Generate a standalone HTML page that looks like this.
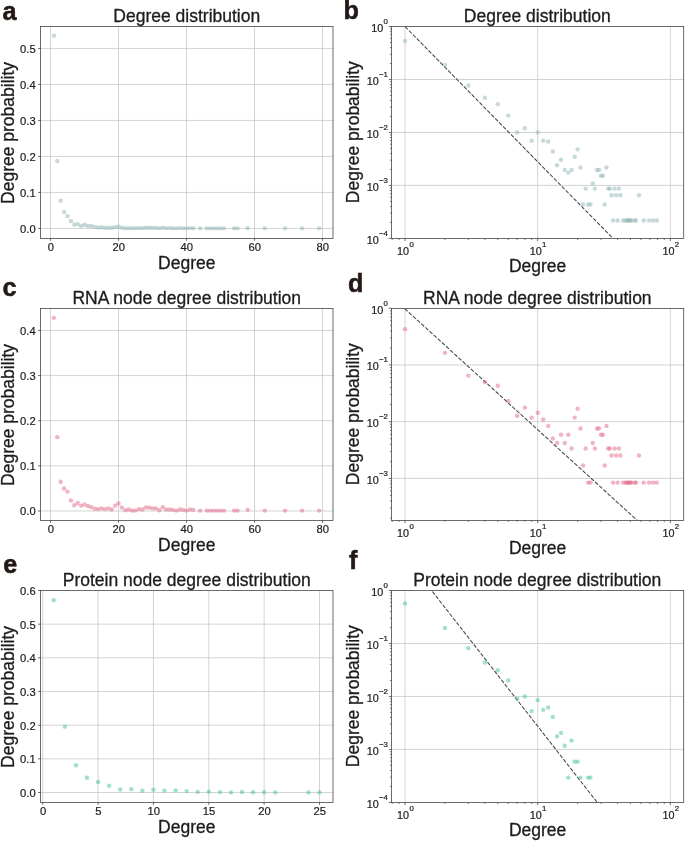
<!DOCTYPE html>
<html><head><meta charset="utf-8"><title>Degree distributions</title>
<style>html,body{margin:0;padding:0;background:#fff;}svg{display:block;will-change:transform;}svg text{font-family:"Liberation Sans",sans-serif;}</style>
</head><body>
<svg width="685" height="841" viewBox="0 0 685 841">
<line x1="50.5" y1="26.5" x2="50.5" y2="238.4" stroke="#c2c2c2" stroke-width="0.7"/>
<line x1="118.5" y1="26.5" x2="118.5" y2="238.4" stroke="#c2c2c2" stroke-width="0.7"/>
<line x1="186.5" y1="26.5" x2="186.5" y2="238.4" stroke="#c2c2c2" stroke-width="0.7"/>
<line x1="254.5" y1="26.5" x2="254.5" y2="238.4" stroke="#c2c2c2" stroke-width="0.7"/>
<line x1="322.5" y1="26.5" x2="322.5" y2="238.4" stroke="#c2c2c2" stroke-width="0.7"/>
<line x1="40.5" y1="228.42" x2="333" y2="228.42" stroke="#c2c2c2" stroke-width="0.7"/>
<line x1="40.5" y1="192.43" x2="333" y2="192.43" stroke="#c2c2c2" stroke-width="0.7"/>
<line x1="40.5" y1="156.44" x2="333" y2="156.44" stroke="#c2c2c2" stroke-width="0.7"/>
<line x1="40.5" y1="120.44" x2="333" y2="120.44" stroke="#c2c2c2" stroke-width="0.7"/>
<line x1="40.5" y1="84.45" x2="333" y2="84.45" stroke="#c2c2c2" stroke-width="0.7"/>
<line x1="40.5" y1="48.46" x2="333" y2="48.46" stroke="#c2c2c2" stroke-width="0.7"/>
<g fill="#8fb3b3" fill-opacity="0.5">
<circle cx="53.9" cy="35.79" r="2.2"/>
<circle cx="57.3" cy="161.01" r="2.2"/>
<circle cx="60.7" cy="200.75" r="2.2"/>
<circle cx="64.1" cy="212.12" r="2.2"/>
<circle cx="67.5" cy="216.11" r="2.2"/>
<circle cx="70.9" cy="220.93" r="2.2"/>
<circle cx="74.3" cy="224.81" r="2.2"/>
<circle cx="77.7" cy="224.11" r="2.2"/>
<circle cx="81.1" cy="225.91" r="2.2"/>
<circle cx="84.5" cy="224.81" r="2.2"/>
<circle cx="87.9" cy="225.91" r="2.2"/>
<circle cx="91.3" cy="225.99" r="2.2"/>
<circle cx="94.7" cy="226.85" r="2.2"/>
<circle cx="98.1" cy="227.56" r="2.2"/>
<circle cx="101.5" cy="227.32" r="2.2"/>
<circle cx="104.9" cy="227.71" r="2.2"/>
<circle cx="108.3" cy="227.79" r="2.2"/>
<circle cx="111.7" cy="227.71" r="2.2"/>
<circle cx="115.1" cy="227.17" r="2.2"/>
<circle cx="118.5" cy="226.7" r="2.2"/>
<circle cx="121.9" cy="227.64" r="2.2"/>
<circle cx="125.3" cy="228.26" r="2.2"/>
<circle cx="128.7" cy="228.11" r="2.2"/>
<circle cx="132.1" cy="228.26" r="2.2"/>
<circle cx="135.5" cy="228.26" r="2.2"/>
<circle cx="138.9" cy="228.03" r="2.2"/>
<circle cx="142.3" cy="228.11" r="2.2"/>
<circle cx="145.7" cy="227.71" r="2.2"/>
<circle cx="149.1" cy="227.71" r="2.2"/>
<circle cx="152.5" cy="227.87" r="2.2"/>
<circle cx="155.9" cy="227.87" r="2.2"/>
<circle cx="159.3" cy="228.26" r="2.2"/>
<circle cx="162.7" cy="227.64" r="2.2"/>
<circle cx="166.1" cy="228.11" r="2.2"/>
<circle cx="169.5" cy="228.11" r="2.2"/>
<circle cx="172.9" cy="228.18" r="2.2"/>
<circle cx="176.3" cy="228.34" r="2.2"/>
<circle cx="179.7" cy="228.11" r="2.2"/>
<circle cx="183.1" cy="228.18" r="2.2"/>
<circle cx="186.5" cy="228.34" r="2.2"/>
<circle cx="189.9" cy="228.11" r="2.2"/>
<circle cx="193.3" cy="228.18" r="2.2"/>
<circle cx="200.1" cy="228.34" r="2.2"/>
<circle cx="206.9" cy="228.34" r="2.2"/>
<circle cx="210.3" cy="228.34" r="2.2"/>
<circle cx="213.7" cy="228.34" r="2.2"/>
<circle cx="217.1" cy="228.34" r="2.2"/>
<circle cx="220.5" cy="228.34" r="2.2"/>
<circle cx="223.9" cy="228.34" r="2.2"/>
<circle cx="234.1" cy="228.34" r="2.2"/>
<circle cx="237.5" cy="228.34" r="2.2"/>
<circle cx="247.7" cy="228.18" r="2.2"/>
<circle cx="264.7" cy="228.34" r="2.2"/>
<circle cx="285.1" cy="228.34" r="2.2"/>
<circle cx="302.1" cy="228.34" r="2.2"/>
<circle cx="319.1" cy="228.34" r="2.2"/>
</g>
<rect x="40.5" y="26.5" width="292.5" height="211.9" fill="none" stroke="#464646" stroke-width="0.8"/>
<line x1="50.5" y1="238.4" x2="50.5" y2="240.8" stroke="#464646" stroke-width="0.8"/>
<text transform="translate(50.8,251.3) scale(1.02,1)" font-size="11.0" text-anchor="middle" font-weight="normal" fill="#1c1c1c" stroke="#1c1c1c" stroke-width="0.2">0</text>
<line x1="118.5" y1="238.4" x2="118.5" y2="240.8" stroke="#464646" stroke-width="0.8"/>
<text transform="translate(118.8,251.3) scale(1.02,1)" font-size="11.0" text-anchor="middle" font-weight="normal" fill="#1c1c1c" stroke="#1c1c1c" stroke-width="0.2">20</text>
<line x1="186.5" y1="238.4" x2="186.5" y2="240.8" stroke="#464646" stroke-width="0.8"/>
<text transform="translate(186.8,251.3) scale(1.02,1)" font-size="11.0" text-anchor="middle" font-weight="normal" fill="#1c1c1c" stroke="#1c1c1c" stroke-width="0.2">40</text>
<line x1="254.5" y1="238.4" x2="254.5" y2="240.8" stroke="#464646" stroke-width="0.8"/>
<text transform="translate(254.8,251.3) scale(1.02,1)" font-size="11.0" text-anchor="middle" font-weight="normal" fill="#1c1c1c" stroke="#1c1c1c" stroke-width="0.2">60</text>
<line x1="322.5" y1="238.4" x2="322.5" y2="240.8" stroke="#464646" stroke-width="0.8"/>
<text transform="translate(322.8,251.3) scale(1.02,1)" font-size="11.0" text-anchor="middle" font-weight="normal" fill="#1c1c1c" stroke="#1c1c1c" stroke-width="0.2">80</text>
<line x1="38.1" y1="228.42" x2="40.5" y2="228.42" stroke="#464646" stroke-width="0.8"/>
<text transform="translate(35.7,232.87) scale(1.02,1)" font-size="11.0" text-anchor="end" font-weight="normal" fill="#1c1c1c" stroke="#1c1c1c" stroke-width="0.2">0.0</text>
<line x1="38.1" y1="192.43" x2="40.5" y2="192.43" stroke="#464646" stroke-width="0.8"/>
<text transform="translate(35.7,196.88) scale(1.02,1)" font-size="11.0" text-anchor="end" font-weight="normal" fill="#1c1c1c" stroke="#1c1c1c" stroke-width="0.2">0.1</text>
<line x1="38.1" y1="156.44" x2="40.5" y2="156.44" stroke="#464646" stroke-width="0.8"/>
<text transform="translate(35.7,160.89) scale(1.02,1)" font-size="11.0" text-anchor="end" font-weight="normal" fill="#1c1c1c" stroke="#1c1c1c" stroke-width="0.2">0.2</text>
<line x1="38.1" y1="120.44" x2="40.5" y2="120.44" stroke="#464646" stroke-width="0.8"/>
<text transform="translate(35.7,124.89) scale(1.02,1)" font-size="11.0" text-anchor="end" font-weight="normal" fill="#1c1c1c" stroke="#1c1c1c" stroke-width="0.2">0.3</text>
<line x1="38.1" y1="84.45" x2="40.5" y2="84.45" stroke="#464646" stroke-width="0.8"/>
<text transform="translate(35.7,88.9) scale(1.02,1)" font-size="11.0" text-anchor="end" font-weight="normal" fill="#1c1c1c" stroke="#1c1c1c" stroke-width="0.2">0.4</text>
<line x1="38.1" y1="48.46" x2="40.5" y2="48.46" stroke="#464646" stroke-width="0.8"/>
<text transform="translate(35.7,52.91) scale(1.02,1)" font-size="11.0" text-anchor="end" font-weight="normal" fill="#1c1c1c" stroke="#1c1c1c" stroke-width="0.2">0.5</text>
<text transform="translate(186.75,21.9) scale(1.0,1)" font-size="17.5" text-anchor="middle" font-weight="normal" fill="#1c1c1c" stroke="#1c1c1c" stroke-width="0.3">Degree distribution</text>
<text transform="translate(186.75,268.9) scale(1.0,1)" font-size="17.5" text-anchor="middle" font-weight="normal" fill="#1c1c1c" stroke="#1c1c1c" stroke-width="0.3">Degree</text>
<text transform="translate(14.3,132.95) rotate(-90) scale(1.0,1)" font-size="17.5" text-anchor="middle" fill="#1c1c1c" stroke="#1c1c1c" stroke-width="0.3">Degree probability</text>
<line x1="50.5" y1="308.5" x2="50.5" y2="520.4" stroke="#c2c2c2" stroke-width="0.7"/>
<line x1="118.5" y1="308.5" x2="118.5" y2="520.4" stroke="#c2c2c2" stroke-width="0.7"/>
<line x1="186.5" y1="308.5" x2="186.5" y2="520.4" stroke="#c2c2c2" stroke-width="0.7"/>
<line x1="254.5" y1="308.5" x2="254.5" y2="520.4" stroke="#c2c2c2" stroke-width="0.7"/>
<line x1="322.5" y1="308.5" x2="322.5" y2="520.4" stroke="#c2c2c2" stroke-width="0.7"/>
<line x1="40.5" y1="511" x2="333" y2="511" stroke="#c2c2c2" stroke-width="0.7"/>
<line x1="40.5" y1="465.86" x2="333" y2="465.86" stroke="#c2c2c2" stroke-width="0.7"/>
<line x1="40.5" y1="420.72" x2="333" y2="420.72" stroke="#c2c2c2" stroke-width="0.7"/>
<line x1="40.5" y1="375.58" x2="333" y2="375.58" stroke="#c2c2c2" stroke-width="0.7"/>
<line x1="40.5" y1="330.44" x2="333" y2="330.44" stroke="#c2c2c2" stroke-width="0.7"/>
<g fill="#e16989" fill-opacity="0.5">
<circle cx="53.9" cy="317.84" r="2.2"/>
<circle cx="57.3" cy="437.16" r="2.2"/>
<circle cx="60.7" cy="481.69" r="2.2"/>
<circle cx="64.1" cy="488.54" r="2.2"/>
<circle cx="67.5" cy="491.59" r="2.2"/>
<circle cx="70.9" cy="500.53" r="2.2"/>
<circle cx="74.3" cy="505.29" r="2.2"/>
<circle cx="77.7" cy="503.01" r="2.2"/>
<circle cx="81.1" cy="505.67" r="2.2"/>
<circle cx="84.5" cy="504.53" r="2.2"/>
<circle cx="87.9" cy="506.05" r="2.2"/>
<circle cx="91.3" cy="507.19" r="2.2"/>
<circle cx="94.7" cy="508.72" r="2.2"/>
<circle cx="98.1" cy="509.1" r="2.2"/>
<circle cx="101.5" cy="508.34" r="2.2"/>
<circle cx="104.9" cy="509.1" r="2.2"/>
<circle cx="108.3" cy="508.34" r="2.2"/>
<circle cx="111.7" cy="509.48" r="2.2"/>
<circle cx="115.1" cy="505.67" r="2.2"/>
<circle cx="118.5" cy="503.39" r="2.2"/>
<circle cx="121.9" cy="507.57" r="2.2"/>
<circle cx="125.3" cy="510.24" r="2.2"/>
<circle cx="128.7" cy="509.48" r="2.2"/>
<circle cx="132.1" cy="510.62" r="2.2"/>
<circle cx="135.5" cy="510.62" r="2.2"/>
<circle cx="138.9" cy="509.1" r="2.2"/>
<circle cx="142.3" cy="509.48" r="2.2"/>
<circle cx="145.7" cy="507.57" r="2.2"/>
<circle cx="149.1" cy="507.57" r="2.2"/>
<circle cx="152.5" cy="508.34" r="2.2"/>
<circle cx="155.9" cy="508.34" r="2.2"/>
<circle cx="159.3" cy="510.24" r="2.2"/>
<circle cx="162.7" cy="507.19" r="2.2"/>
<circle cx="166.1" cy="509.48" r="2.2"/>
<circle cx="169.5" cy="509.48" r="2.2"/>
<circle cx="172.9" cy="509.86" r="2.2"/>
<circle cx="176.3" cy="510.62" r="2.2"/>
<circle cx="179.7" cy="509.48" r="2.2"/>
<circle cx="183.1" cy="509.86" r="2.2"/>
<circle cx="186.5" cy="510.62" r="2.2"/>
<circle cx="189.9" cy="509.48" r="2.2"/>
<circle cx="193.3" cy="509.86" r="2.2"/>
<circle cx="200.1" cy="510.62" r="2.2"/>
<circle cx="206.9" cy="510.62" r="2.2"/>
<circle cx="210.3" cy="510.62" r="2.2"/>
<circle cx="213.7" cy="510.62" r="2.2"/>
<circle cx="217.1" cy="510.62" r="2.2"/>
<circle cx="220.5" cy="510.62" r="2.2"/>
<circle cx="223.9" cy="510.62" r="2.2"/>
<circle cx="234.1" cy="510.62" r="2.2"/>
<circle cx="237.5" cy="510.62" r="2.2"/>
<circle cx="247.7" cy="509.86" r="2.2"/>
<circle cx="264.7" cy="510.62" r="2.2"/>
<circle cx="285.1" cy="510.62" r="2.2"/>
<circle cx="302.1" cy="510.62" r="2.2"/>
<circle cx="319.1" cy="510.62" r="2.2"/>
</g>
<rect x="40.5" y="308.5" width="292.5" height="211.9" fill="none" stroke="#464646" stroke-width="0.8"/>
<line x1="50.5" y1="520.4" x2="50.5" y2="522.8" stroke="#464646" stroke-width="0.8"/>
<text transform="translate(50.8,533.3) scale(1.02,1)" font-size="11.0" text-anchor="middle" font-weight="normal" fill="#1c1c1c" stroke="#1c1c1c" stroke-width="0.2">0</text>
<line x1="118.5" y1="520.4" x2="118.5" y2="522.8" stroke="#464646" stroke-width="0.8"/>
<text transform="translate(118.8,533.3) scale(1.02,1)" font-size="11.0" text-anchor="middle" font-weight="normal" fill="#1c1c1c" stroke="#1c1c1c" stroke-width="0.2">20</text>
<line x1="186.5" y1="520.4" x2="186.5" y2="522.8" stroke="#464646" stroke-width="0.8"/>
<text transform="translate(186.8,533.3) scale(1.02,1)" font-size="11.0" text-anchor="middle" font-weight="normal" fill="#1c1c1c" stroke="#1c1c1c" stroke-width="0.2">40</text>
<line x1="254.5" y1="520.4" x2="254.5" y2="522.8" stroke="#464646" stroke-width="0.8"/>
<text transform="translate(254.8,533.3) scale(1.02,1)" font-size="11.0" text-anchor="middle" font-weight="normal" fill="#1c1c1c" stroke="#1c1c1c" stroke-width="0.2">60</text>
<line x1="322.5" y1="520.4" x2="322.5" y2="522.8" stroke="#464646" stroke-width="0.8"/>
<text transform="translate(322.8,533.3) scale(1.02,1)" font-size="11.0" text-anchor="middle" font-weight="normal" fill="#1c1c1c" stroke="#1c1c1c" stroke-width="0.2">80</text>
<line x1="38.1" y1="511" x2="40.5" y2="511" stroke="#464646" stroke-width="0.8"/>
<text transform="translate(35.7,515.45) scale(1.02,1)" font-size="11.0" text-anchor="end" font-weight="normal" fill="#1c1c1c" stroke="#1c1c1c" stroke-width="0.2">0.0</text>
<line x1="38.1" y1="465.86" x2="40.5" y2="465.86" stroke="#464646" stroke-width="0.8"/>
<text transform="translate(35.7,470.31) scale(1.02,1)" font-size="11.0" text-anchor="end" font-weight="normal" fill="#1c1c1c" stroke="#1c1c1c" stroke-width="0.2">0.1</text>
<line x1="38.1" y1="420.72" x2="40.5" y2="420.72" stroke="#464646" stroke-width="0.8"/>
<text transform="translate(35.7,425.17) scale(1.02,1)" font-size="11.0" text-anchor="end" font-weight="normal" fill="#1c1c1c" stroke="#1c1c1c" stroke-width="0.2">0.2</text>
<line x1="38.1" y1="375.58" x2="40.5" y2="375.58" stroke="#464646" stroke-width="0.8"/>
<text transform="translate(35.7,380.03) scale(1.02,1)" font-size="11.0" text-anchor="end" font-weight="normal" fill="#1c1c1c" stroke="#1c1c1c" stroke-width="0.2">0.3</text>
<line x1="38.1" y1="330.44" x2="40.5" y2="330.44" stroke="#464646" stroke-width="0.8"/>
<text transform="translate(35.7,334.89) scale(1.02,1)" font-size="11.0" text-anchor="end" font-weight="normal" fill="#1c1c1c" stroke="#1c1c1c" stroke-width="0.2">0.4</text>
<text transform="translate(186.75,303.9) scale(1.0,1)" font-size="17.5" text-anchor="middle" font-weight="normal" fill="#1c1c1c" stroke="#1c1c1c" stroke-width="0.3">RNA node degree distribution</text>
<text transform="translate(186.75,550.7) scale(1.0,1)" font-size="17.5" text-anchor="middle" font-weight="normal" fill="#1c1c1c" stroke="#1c1c1c" stroke-width="0.3">Degree</text>
<text transform="translate(14.3,414.95) rotate(-90) scale(1.0,1)" font-size="17.5" text-anchor="middle" fill="#1c1c1c" stroke="#1c1c1c" stroke-width="0.3">Degree probability</text>
<line x1="42.7" y1="590.5" x2="42.7" y2="802.4" stroke="#c2c2c2" stroke-width="0.7"/>
<line x1="98.06" y1="590.5" x2="98.06" y2="802.4" stroke="#c2c2c2" stroke-width="0.7"/>
<line x1="153.42" y1="590.5" x2="153.42" y2="802.4" stroke="#c2c2c2" stroke-width="0.7"/>
<line x1="208.78" y1="590.5" x2="208.78" y2="802.4" stroke="#c2c2c2" stroke-width="0.7"/>
<line x1="264.14" y1="590.5" x2="264.14" y2="802.4" stroke="#c2c2c2" stroke-width="0.7"/>
<line x1="319.5" y1="590.5" x2="319.5" y2="802.4" stroke="#c2c2c2" stroke-width="0.7"/>
<line x1="40.5" y1="792.5" x2="333" y2="792.5" stroke="#c2c2c2" stroke-width="0.7"/>
<line x1="40.5" y1="758.83" x2="333" y2="758.83" stroke="#c2c2c2" stroke-width="0.7"/>
<line x1="40.5" y1="725.16" x2="333" y2="725.16" stroke="#c2c2c2" stroke-width="0.7"/>
<line x1="40.5" y1="691.49" x2="333" y2="691.49" stroke="#c2c2c2" stroke-width="0.7"/>
<line x1="40.5" y1="657.82" x2="333" y2="657.82" stroke="#c2c2c2" stroke-width="0.7"/>
<line x1="40.5" y1="624.15" x2="333" y2="624.15" stroke="#c2c2c2" stroke-width="0.7"/>
<g fill="#41c391" fill-opacity="0.5">
<circle cx="53.77" cy="600.23" r="2.2"/>
<circle cx="64.84" cy="726.66" r="2.2"/>
<circle cx="75.92" cy="765.22" r="2.2"/>
<circle cx="86.99" cy="777.77" r="2.2"/>
<circle cx="98.06" cy="782.02" r="2.2"/>
<circle cx="109.13" cy="785.78" r="2.2"/>
<circle cx="120.2" cy="789.44" r="2.2"/>
<circle cx="131.28" cy="789.14" r="2.2"/>
<circle cx="142.35" cy="790.72" r="2.2"/>
<circle cx="153.42" cy="789.63" r="2.2"/>
<circle cx="164.49" cy="790.62" r="2.2"/>
<circle cx="175.56" cy="790.42" r="2.2"/>
<circle cx="186.64" cy="791.12" r="2.2"/>
<circle cx="197.71" cy="791.91" r="2.2"/>
<circle cx="208.78" cy="791.81" r="2.2"/>
<circle cx="219.85" cy="792.1" r="2.2"/>
<circle cx="230.92" cy="792.4" r="2.2"/>
<circle cx="242" cy="792.01" r="2.2"/>
<circle cx="253.07" cy="792.3" r="2.2"/>
<circle cx="264.14" cy="792.3" r="2.2"/>
<circle cx="275.21" cy="792.4" r="2.2"/>
<circle cx="308.43" cy="792.4" r="2.2"/>
<circle cx="319.5" cy="792.4" r="2.2"/>
</g>
<rect x="40.5" y="590.5" width="292.5" height="211.9" fill="none" stroke="#464646" stroke-width="0.8"/>
<line x1="42.7" y1="802.4" x2="42.7" y2="804.8" stroke="#464646" stroke-width="0.8"/>
<text transform="translate(43,815.3) scale(1.02,1)" font-size="11.0" text-anchor="middle" font-weight="normal" fill="#1c1c1c" stroke="#1c1c1c" stroke-width="0.2">0</text>
<line x1="98.06" y1="802.4" x2="98.06" y2="804.8" stroke="#464646" stroke-width="0.8"/>
<text transform="translate(98.36,815.3) scale(1.02,1)" font-size="11.0" text-anchor="middle" font-weight="normal" fill="#1c1c1c" stroke="#1c1c1c" stroke-width="0.2">5</text>
<line x1="153.42" y1="802.4" x2="153.42" y2="804.8" stroke="#464646" stroke-width="0.8"/>
<text transform="translate(153.72,815.3) scale(1.02,1)" font-size="11.0" text-anchor="middle" font-weight="normal" fill="#1c1c1c" stroke="#1c1c1c" stroke-width="0.2">10</text>
<line x1="208.78" y1="802.4" x2="208.78" y2="804.8" stroke="#464646" stroke-width="0.8"/>
<text transform="translate(209.08,815.3) scale(1.02,1)" font-size="11.0" text-anchor="middle" font-weight="normal" fill="#1c1c1c" stroke="#1c1c1c" stroke-width="0.2">15</text>
<line x1="264.14" y1="802.4" x2="264.14" y2="804.8" stroke="#464646" stroke-width="0.8"/>
<text transform="translate(264.44,815.3) scale(1.02,1)" font-size="11.0" text-anchor="middle" font-weight="normal" fill="#1c1c1c" stroke="#1c1c1c" stroke-width="0.2">20</text>
<line x1="319.5" y1="802.4" x2="319.5" y2="804.8" stroke="#464646" stroke-width="0.8"/>
<text transform="translate(319.8,815.3) scale(1.02,1)" font-size="11.0" text-anchor="middle" font-weight="normal" fill="#1c1c1c" stroke="#1c1c1c" stroke-width="0.2">25</text>
<line x1="38.1" y1="792.5" x2="40.5" y2="792.5" stroke="#464646" stroke-width="0.8"/>
<text transform="translate(35.7,796.95) scale(1.02,1)" font-size="11.0" text-anchor="end" font-weight="normal" fill="#1c1c1c" stroke="#1c1c1c" stroke-width="0.2">0.0</text>
<line x1="38.1" y1="758.83" x2="40.5" y2="758.83" stroke="#464646" stroke-width="0.8"/>
<text transform="translate(35.7,763.28) scale(1.02,1)" font-size="11.0" text-anchor="end" font-weight="normal" fill="#1c1c1c" stroke="#1c1c1c" stroke-width="0.2">0.1</text>
<line x1="38.1" y1="725.16" x2="40.5" y2="725.16" stroke="#464646" stroke-width="0.8"/>
<text transform="translate(35.7,729.61) scale(1.02,1)" font-size="11.0" text-anchor="end" font-weight="normal" fill="#1c1c1c" stroke="#1c1c1c" stroke-width="0.2">0.2</text>
<line x1="38.1" y1="691.49" x2="40.5" y2="691.49" stroke="#464646" stroke-width="0.8"/>
<text transform="translate(35.7,695.94) scale(1.02,1)" font-size="11.0" text-anchor="end" font-weight="normal" fill="#1c1c1c" stroke="#1c1c1c" stroke-width="0.2">0.3</text>
<line x1="38.1" y1="657.82" x2="40.5" y2="657.82" stroke="#464646" stroke-width="0.8"/>
<text transform="translate(35.7,662.27) scale(1.02,1)" font-size="11.0" text-anchor="end" font-weight="normal" fill="#1c1c1c" stroke="#1c1c1c" stroke-width="0.2">0.4</text>
<line x1="38.1" y1="624.15" x2="40.5" y2="624.15" stroke="#464646" stroke-width="0.8"/>
<text transform="translate(35.7,628.6) scale(1.02,1)" font-size="11.0" text-anchor="end" font-weight="normal" fill="#1c1c1c" stroke="#1c1c1c" stroke-width="0.2">0.5</text>
<line x1="38.1" y1="590.48" x2="40.5" y2="590.48" stroke="#464646" stroke-width="0.8"/>
<text transform="translate(35.7,594.93) scale(1.02,1)" font-size="11.0" text-anchor="end" font-weight="normal" fill="#1c1c1c" stroke="#1c1c1c" stroke-width="0.2">0.6</text>
<text transform="translate(186.75,586.1) scale(1.0,1)" font-size="17.5" text-anchor="middle" font-weight="normal" fill="#1c1c1c" stroke="#1c1c1c" stroke-width="0.3">Protein node degree distribution</text>
<text transform="translate(186.75,832.7) scale(1.0,1)" font-size="17.5" text-anchor="middle" font-weight="normal" fill="#1c1c1c" stroke="#1c1c1c" stroke-width="0.3">Degree</text>
<text transform="translate(14.3,696.95) rotate(-90) scale(1.0,1)" font-size="17.5" text-anchor="middle" fill="#1c1c1c" stroke="#1c1c1c" stroke-width="0.3">Degree probability</text>
<clipPath id="cb"><rect x="391.5" y="26.5" width="292.2" height="211.9"/></clipPath>
<line x1="405.05" y1="26.5" x2="405.05" y2="238.4" stroke="#d4d4d4" stroke-width="1.0"/>
<line x1="537.7" y1="26.5" x2="537.7" y2="238.4" stroke="#d4d4d4" stroke-width="1.0"/>
<line x1="670.35" y1="26.5" x2="670.35" y2="238.4" stroke="#d4d4d4" stroke-width="1.0"/>
<line x1="391.5" y1="79.47" x2="683.7" y2="79.47" stroke="#c6c6c6" stroke-width="0.8"/>
<line x1="391.5" y1="132.44" x2="683.7" y2="132.44" stroke="#c6c6c6" stroke-width="0.8"/>
<line x1="391.5" y1="185.41" x2="683.7" y2="185.41" stroke="#c6c6c6" stroke-width="0.8"/>
<line x1="405" y1="26.5" x2="654.48" y2="280.78" stroke="#454545" stroke-width="1.05" stroke-dasharray="4.0 1.6" clip-path="url(#cb)"/>
<g fill="#8fb3b3" fill-opacity="0.5">
<circle cx="405.05" cy="40.88" r="2.2"/>
<circle cx="444.98" cy="65.04" r="2.2"/>
<circle cx="468.34" cy="85.52" r="2.2"/>
<circle cx="484.91" cy="97.69" r="2.2"/>
<circle cx="497.77" cy="104.16" r="2.2"/>
<circle cx="508.27" cy="115.6" r="2.2"/>
<circle cx="517.15" cy="132.4" r="2.2"/>
<circle cx="524.84" cy="128.29" r="2.2"/>
<circle cx="531.63" cy="140.75" r="2.2"/>
<circle cx="537.7" cy="132.4" r="2.2"/>
<circle cx="543.19" cy="140.75" r="2.2"/>
<circle cx="548.2" cy="141.48" r="2.2"/>
<circle cx="552.81" cy="151.56" r="2.2"/>
<circle cx="557.08" cy="165.31" r="2.2"/>
<circle cx="561.06" cy="159.77" r="2.2"/>
<circle cx="564.78" cy="169.93" r="2.2"/>
<circle cx="568.27" cy="172.64" r="2.2"/>
<circle cx="571.56" cy="169.93" r="2.2"/>
<circle cx="574.68" cy="156.69" r="2.2"/>
<circle cx="577.63" cy="149.37" r="2.2"/>
<circle cx="580.44" cy="167.51" r="2.2"/>
<circle cx="583.12" cy="204.53" r="2.2"/>
<circle cx="585.68" cy="188.59" r="2.2"/>
<circle cx="588.14" cy="204.53" r="2.2"/>
<circle cx="590.49" cy="204.53" r="2.2"/>
<circle cx="592.75" cy="183.45" r="2.2"/>
<circle cx="594.92" cy="188.59" r="2.2"/>
<circle cx="597.02" cy="169.93" r="2.2"/>
<circle cx="599.04" cy="169.93" r="2.2"/>
<circle cx="600.99" cy="175.71" r="2.2"/>
<circle cx="602.88" cy="175.71" r="2.2"/>
<circle cx="604.71" cy="204.53" r="2.2"/>
<circle cx="606.48" cy="167.51" r="2.2"/>
<circle cx="608.2" cy="188.59" r="2.2"/>
<circle cx="609.87" cy="188.59" r="2.2"/>
<circle cx="611.49" cy="195.2" r="2.2"/>
<circle cx="613.07" cy="220.48" r="2.2"/>
<circle cx="614.61" cy="188.59" r="2.2"/>
<circle cx="616.1" cy="195.2" r="2.2"/>
<circle cx="617.56" cy="220.48" r="2.2"/>
<circle cx="618.99" cy="188.59" r="2.2"/>
<circle cx="620.37" cy="195.2" r="2.2"/>
<circle cx="623.05" cy="220.48" r="2.2"/>
<circle cx="625.61" cy="220.48" r="2.2"/>
<circle cx="626.85" cy="220.48" r="2.2"/>
<circle cx="628.07" cy="220.48" r="2.2"/>
<circle cx="629.25" cy="220.48" r="2.2"/>
<circle cx="630.42" cy="220.48" r="2.2"/>
<circle cx="631.56" cy="220.48" r="2.2"/>
<circle cx="634.85" cy="220.48" r="2.2"/>
<circle cx="635.91" cy="220.48" r="2.2"/>
<circle cx="638.97" cy="195.2" r="2.2"/>
<circle cx="643.73" cy="220.48" r="2.2"/>
<circle cx="648.97" cy="220.48" r="2.2"/>
<circle cx="653" cy="220.48" r="2.2"/>
<circle cx="656.77" cy="220.48" r="2.2"/>
</g>
<rect x="391.5" y="26.5" width="292.2" height="211.9" fill="none" stroke="#464646" stroke-width="0.8"/>
<line x1="405.05" y1="238.4" x2="405.05" y2="241.1" stroke="#464646" stroke-width="0.8"/>
<text transform="translate(405.45,255.1) scale(1.06,1)" font-size="10.2" text-anchor="middle" fill="#1c1c1c" stroke="#1c1c1c" stroke-width="0.2">10<tspan dx="0.3" dy="-7.8" font-size="7.4">0</tspan></text>
<line x1="444.98" y1="238.4" x2="444.98" y2="240" stroke="#464646" stroke-width="0.7"/>
<line x1="468.34" y1="238.4" x2="468.34" y2="240" stroke="#464646" stroke-width="0.7"/>
<line x1="484.91" y1="238.4" x2="484.91" y2="240" stroke="#464646" stroke-width="0.7"/>
<line x1="497.77" y1="238.4" x2="497.77" y2="240" stroke="#464646" stroke-width="0.7"/>
<line x1="508.27" y1="238.4" x2="508.27" y2="240" stroke="#464646" stroke-width="0.7"/>
<line x1="517.15" y1="238.4" x2="517.15" y2="240" stroke="#464646" stroke-width="0.7"/>
<line x1="524.84" y1="238.4" x2="524.84" y2="240" stroke="#464646" stroke-width="0.7"/>
<line x1="531.63" y1="238.4" x2="531.63" y2="240" stroke="#464646" stroke-width="0.7"/>
<line x1="537.7" y1="238.4" x2="537.7" y2="241.1" stroke="#464646" stroke-width="0.8"/>
<text transform="translate(538.1,255.1) scale(1.06,1)" font-size="10.2" text-anchor="middle" fill="#1c1c1c" stroke="#1c1c1c" stroke-width="0.2">10<tspan dx="0.3" dy="-7.8" font-size="7.4">1</tspan></text>
<line x1="577.63" y1="238.4" x2="577.63" y2="240" stroke="#464646" stroke-width="0.7"/>
<line x1="600.99" y1="238.4" x2="600.99" y2="240" stroke="#464646" stroke-width="0.7"/>
<line x1="617.56" y1="238.4" x2="617.56" y2="240" stroke="#464646" stroke-width="0.7"/>
<line x1="630.42" y1="238.4" x2="630.42" y2="240" stroke="#464646" stroke-width="0.7"/>
<line x1="640.92" y1="238.4" x2="640.92" y2="240" stroke="#464646" stroke-width="0.7"/>
<line x1="649.8" y1="238.4" x2="649.8" y2="240" stroke="#464646" stroke-width="0.7"/>
<line x1="657.49" y1="238.4" x2="657.49" y2="240" stroke="#464646" stroke-width="0.7"/>
<line x1="664.28" y1="238.4" x2="664.28" y2="240" stroke="#464646" stroke-width="0.7"/>
<line x1="670.35" y1="238.4" x2="670.35" y2="241.1" stroke="#464646" stroke-width="0.8"/>
<text transform="translate(670.75,255.1) scale(1.06,1)" font-size="10.2" text-anchor="middle" fill="#1c1c1c" stroke="#1c1c1c" stroke-width="0.2">10<tspan dx="0.3" dy="-7.8" font-size="7.4">2</tspan></text>
<line x1="392.19" y1="238.4" x2="392.19" y2="240" stroke="#464646" stroke-width="0.7"/>
<line x1="398.98" y1="238.4" x2="398.98" y2="240" stroke="#464646" stroke-width="0.7"/>
<line x1="388.8" y1="26.5" x2="391.5" y2="26.5" stroke="#464646" stroke-width="0.8"/>
<text transform="translate(387.9,31.8) scale(1.06,1)" font-size="10.2" text-anchor="end" fill="#1c1c1c" stroke="#1c1c1c" stroke-width="0.2">10<tspan dx="0.3" dy="-7.8" font-size="7.4">0</tspan></text>
<line x1="389.9" y1="63.52" x2="391.5" y2="63.52" stroke="#464646" stroke-width="0.7"/>
<line x1="389.9" y1="54.2" x2="391.5" y2="54.2" stroke="#464646" stroke-width="0.7"/>
<line x1="389.9" y1="47.58" x2="391.5" y2="47.58" stroke="#464646" stroke-width="0.7"/>
<line x1="389.9" y1="42.45" x2="391.5" y2="42.45" stroke="#464646" stroke-width="0.7"/>
<line x1="389.9" y1="38.25" x2="391.5" y2="38.25" stroke="#464646" stroke-width="0.7"/>
<line x1="389.9" y1="34.71" x2="391.5" y2="34.71" stroke="#464646" stroke-width="0.7"/>
<line x1="389.9" y1="31.63" x2="391.5" y2="31.63" stroke="#464646" stroke-width="0.7"/>
<line x1="389.9" y1="28.92" x2="391.5" y2="28.92" stroke="#464646" stroke-width="0.7"/>
<line x1="388.8" y1="79.47" x2="391.5" y2="79.47" stroke="#464646" stroke-width="0.8"/>
<text transform="translate(387.9,84.77) scale(1.06,1)" font-size="10.2" text-anchor="end" fill="#1c1c1c" stroke="#1c1c1c" stroke-width="0.2">10<tspan dx="0.3" dy="-7.8" font-size="7.4">−1</tspan></text>
<line x1="389.9" y1="116.49" x2="391.5" y2="116.49" stroke="#464646" stroke-width="0.7"/>
<line x1="389.9" y1="107.17" x2="391.5" y2="107.17" stroke="#464646" stroke-width="0.7"/>
<line x1="389.9" y1="100.55" x2="391.5" y2="100.55" stroke="#464646" stroke-width="0.7"/>
<line x1="389.9" y1="95.42" x2="391.5" y2="95.42" stroke="#464646" stroke-width="0.7"/>
<line x1="389.9" y1="91.22" x2="391.5" y2="91.22" stroke="#464646" stroke-width="0.7"/>
<line x1="389.9" y1="87.68" x2="391.5" y2="87.68" stroke="#464646" stroke-width="0.7"/>
<line x1="389.9" y1="84.6" x2="391.5" y2="84.6" stroke="#464646" stroke-width="0.7"/>
<line x1="389.9" y1="81.89" x2="391.5" y2="81.89" stroke="#464646" stroke-width="0.7"/>
<line x1="388.8" y1="132.44" x2="391.5" y2="132.44" stroke="#464646" stroke-width="0.8"/>
<text transform="translate(387.9,137.74) scale(1.06,1)" font-size="10.2" text-anchor="end" fill="#1c1c1c" stroke="#1c1c1c" stroke-width="0.2">10<tspan dx="0.3" dy="-7.8" font-size="7.4">−2</tspan></text>
<line x1="389.9" y1="169.46" x2="391.5" y2="169.46" stroke="#464646" stroke-width="0.7"/>
<line x1="389.9" y1="160.14" x2="391.5" y2="160.14" stroke="#464646" stroke-width="0.7"/>
<line x1="389.9" y1="153.52" x2="391.5" y2="153.52" stroke="#464646" stroke-width="0.7"/>
<line x1="389.9" y1="148.39" x2="391.5" y2="148.39" stroke="#464646" stroke-width="0.7"/>
<line x1="389.9" y1="144.19" x2="391.5" y2="144.19" stroke="#464646" stroke-width="0.7"/>
<line x1="389.9" y1="140.65" x2="391.5" y2="140.65" stroke="#464646" stroke-width="0.7"/>
<line x1="389.9" y1="137.57" x2="391.5" y2="137.57" stroke="#464646" stroke-width="0.7"/>
<line x1="389.9" y1="134.86" x2="391.5" y2="134.86" stroke="#464646" stroke-width="0.7"/>
<line x1="388.8" y1="185.41" x2="391.5" y2="185.41" stroke="#464646" stroke-width="0.8"/>
<text transform="translate(387.9,190.71) scale(1.06,1)" font-size="10.2" text-anchor="end" fill="#1c1c1c" stroke="#1c1c1c" stroke-width="0.2">10<tspan dx="0.3" dy="-7.8" font-size="7.4">−3</tspan></text>
<line x1="389.9" y1="222.43" x2="391.5" y2="222.43" stroke="#464646" stroke-width="0.7"/>
<line x1="389.9" y1="213.11" x2="391.5" y2="213.11" stroke="#464646" stroke-width="0.7"/>
<line x1="389.9" y1="206.49" x2="391.5" y2="206.49" stroke="#464646" stroke-width="0.7"/>
<line x1="389.9" y1="201.36" x2="391.5" y2="201.36" stroke="#464646" stroke-width="0.7"/>
<line x1="389.9" y1="197.16" x2="391.5" y2="197.16" stroke="#464646" stroke-width="0.7"/>
<line x1="389.9" y1="193.62" x2="391.5" y2="193.62" stroke="#464646" stroke-width="0.7"/>
<line x1="389.9" y1="190.54" x2="391.5" y2="190.54" stroke="#464646" stroke-width="0.7"/>
<line x1="389.9" y1="187.83" x2="391.5" y2="187.83" stroke="#464646" stroke-width="0.7"/>
<line x1="388.8" y1="238.38" x2="391.5" y2="238.38" stroke="#464646" stroke-width="0.8"/>
<text transform="translate(387.9,243.68) scale(1.06,1)" font-size="10.2" text-anchor="end" fill="#1c1c1c" stroke="#1c1c1c" stroke-width="0.2">10<tspan dx="0.3" dy="-7.8" font-size="7.4">−4</tspan></text>
<text transform="translate(537.3,21.9) scale(1.0,1)" font-size="17.5" text-anchor="middle" font-weight="normal" fill="#1c1c1c" stroke="#1c1c1c" stroke-width="0.3">Degree distribution</text>
<text transform="translate(537.6,272.1) scale(1.0,1)" font-size="17.5" text-anchor="middle" font-weight="normal" fill="#1c1c1c" stroke="#1c1c1c" stroke-width="0.3">Degree</text>
<text transform="translate(359.2,132.15) rotate(-90) scale(1.0,1)" font-size="17.5" text-anchor="middle" fill="#1c1c1c" stroke="#1c1c1c" stroke-width="0.3">Degree probability</text>
<clipPath id="cd"><rect x="391.5" y="308.5" width="292.2" height="211.9"/></clipPath>
<line x1="405.05" y1="308.5" x2="405.05" y2="520.4" stroke="#d4d4d4" stroke-width="1.0"/>
<line x1="537.7" y1="308.5" x2="537.7" y2="520.4" stroke="#d4d4d4" stroke-width="1.0"/>
<line x1="670.35" y1="308.5" x2="670.35" y2="520.4" stroke="#d4d4d4" stroke-width="1.0"/>
<line x1="391.5" y1="364.97" x2="683.7" y2="364.97" stroke="#c6c6c6" stroke-width="0.8"/>
<line x1="391.5" y1="421.69" x2="683.7" y2="421.69" stroke="#c6c6c6" stroke-width="0.8"/>
<line x1="391.5" y1="478.41" x2="683.7" y2="478.41" stroke="#c6c6c6" stroke-width="0.8"/>
<line x1="404.65" y1="308.55" x2="683.77" y2="562.77" stroke="#454545" stroke-width="1.05" stroke-dasharray="4.0 1.6" clip-path="url(#cd)"/>
<g fill="#e16989" fill-opacity="0.5">
<circle cx="405.05" cy="329.16" r="2.2"/>
<circle cx="444.98" cy="352.85" r="2.2"/>
<circle cx="468.34" cy="375.61" r="2.2"/>
<circle cx="484.91" cy="382.17" r="2.2"/>
<circle cx="497.77" cy="385.76" r="2.2"/>
<circle cx="508.27" cy="400.97" r="2.2"/>
<circle cx="517.15" cy="415.9" r="2.2"/>
<circle cx="524.84" cy="407.62" r="2.2"/>
<circle cx="531.63" cy="417.6" r="2.2"/>
<circle cx="537.7" cy="412.82" r="2.2"/>
<circle cx="543.19" cy="419.43" r="2.2"/>
<circle cx="548.2" cy="425.89" r="2.2"/>
<circle cx="552.81" cy="438.48" r="2.2"/>
<circle cx="557.08" cy="442.97" r="2.2"/>
<circle cx="561.06" cy="434.68" r="2.2"/>
<circle cx="564.78" cy="442.97" r="2.2"/>
<circle cx="568.27" cy="434.68" r="2.2"/>
<circle cx="571.56" cy="448.46" r="2.2"/>
<circle cx="574.68" cy="417.6" r="2.2"/>
<circle cx="577.63" cy="408.82" r="2.2"/>
<circle cx="580.44" cy="428.49" r="2.2"/>
<circle cx="583.12" cy="465.54" r="2.2"/>
<circle cx="585.68" cy="448.46" r="2.2"/>
<circle cx="588.14" cy="482.61" r="2.2"/>
<circle cx="590.49" cy="482.61" r="2.2"/>
<circle cx="592.75" cy="442.97" r="2.2"/>
<circle cx="594.92" cy="448.46" r="2.2"/>
<circle cx="597.02" cy="428.49" r="2.2"/>
<circle cx="599.04" cy="428.49" r="2.2"/>
<circle cx="600.99" cy="434.68" r="2.2"/>
<circle cx="602.88" cy="434.68" r="2.2"/>
<circle cx="604.71" cy="465.54" r="2.2"/>
<circle cx="606.48" cy="425.89" r="2.2"/>
<circle cx="608.2" cy="448.46" r="2.2"/>
<circle cx="609.87" cy="448.46" r="2.2"/>
<circle cx="611.49" cy="455.55" r="2.2"/>
<circle cx="613.07" cy="482.61" r="2.2"/>
<circle cx="614.61" cy="448.46" r="2.2"/>
<circle cx="616.1" cy="455.55" r="2.2"/>
<circle cx="617.56" cy="482.61" r="2.2"/>
<circle cx="618.99" cy="448.46" r="2.2"/>
<circle cx="620.37" cy="455.55" r="2.2"/>
<circle cx="623.05" cy="482.61" r="2.2"/>
<circle cx="625.61" cy="482.61" r="2.2"/>
<circle cx="626.85" cy="482.61" r="2.2"/>
<circle cx="628.07" cy="482.61" r="2.2"/>
<circle cx="629.25" cy="482.61" r="2.2"/>
<circle cx="630.42" cy="482.61" r="2.2"/>
<circle cx="631.56" cy="482.61" r="2.2"/>
<circle cx="634.85" cy="482.61" r="2.2"/>
<circle cx="635.91" cy="482.61" r="2.2"/>
<circle cx="638.97" cy="455.55" r="2.2"/>
<circle cx="643.73" cy="482.61" r="2.2"/>
<circle cx="648.97" cy="482.61" r="2.2"/>
<circle cx="653" cy="482.61" r="2.2"/>
<circle cx="656.77" cy="482.61" r="2.2"/>
</g>
<rect x="391.5" y="308.5" width="292.2" height="211.9" fill="none" stroke="#464646" stroke-width="0.8"/>
<line x1="405.05" y1="520.4" x2="405.05" y2="523.1" stroke="#464646" stroke-width="0.8"/>
<text transform="translate(405.45,537.1) scale(1.06,1)" font-size="10.2" text-anchor="middle" fill="#1c1c1c" stroke="#1c1c1c" stroke-width="0.2">10<tspan dx="0.3" dy="-7.8" font-size="7.4">0</tspan></text>
<line x1="444.98" y1="520.4" x2="444.98" y2="522" stroke="#464646" stroke-width="0.7"/>
<line x1="468.34" y1="520.4" x2="468.34" y2="522" stroke="#464646" stroke-width="0.7"/>
<line x1="484.91" y1="520.4" x2="484.91" y2="522" stroke="#464646" stroke-width="0.7"/>
<line x1="497.77" y1="520.4" x2="497.77" y2="522" stroke="#464646" stroke-width="0.7"/>
<line x1="508.27" y1="520.4" x2="508.27" y2="522" stroke="#464646" stroke-width="0.7"/>
<line x1="517.15" y1="520.4" x2="517.15" y2="522" stroke="#464646" stroke-width="0.7"/>
<line x1="524.84" y1="520.4" x2="524.84" y2="522" stroke="#464646" stroke-width="0.7"/>
<line x1="531.63" y1="520.4" x2="531.63" y2="522" stroke="#464646" stroke-width="0.7"/>
<line x1="537.7" y1="520.4" x2="537.7" y2="523.1" stroke="#464646" stroke-width="0.8"/>
<text transform="translate(538.1,537.1) scale(1.06,1)" font-size="10.2" text-anchor="middle" fill="#1c1c1c" stroke="#1c1c1c" stroke-width="0.2">10<tspan dx="0.3" dy="-7.8" font-size="7.4">1</tspan></text>
<line x1="577.63" y1="520.4" x2="577.63" y2="522" stroke="#464646" stroke-width="0.7"/>
<line x1="600.99" y1="520.4" x2="600.99" y2="522" stroke="#464646" stroke-width="0.7"/>
<line x1="617.56" y1="520.4" x2="617.56" y2="522" stroke="#464646" stroke-width="0.7"/>
<line x1="630.42" y1="520.4" x2="630.42" y2="522" stroke="#464646" stroke-width="0.7"/>
<line x1="640.92" y1="520.4" x2="640.92" y2="522" stroke="#464646" stroke-width="0.7"/>
<line x1="649.8" y1="520.4" x2="649.8" y2="522" stroke="#464646" stroke-width="0.7"/>
<line x1="657.49" y1="520.4" x2="657.49" y2="522" stroke="#464646" stroke-width="0.7"/>
<line x1="664.28" y1="520.4" x2="664.28" y2="522" stroke="#464646" stroke-width="0.7"/>
<line x1="670.35" y1="520.4" x2="670.35" y2="523.1" stroke="#464646" stroke-width="0.8"/>
<text transform="translate(670.75,537.1) scale(1.06,1)" font-size="10.2" text-anchor="middle" fill="#1c1c1c" stroke="#1c1c1c" stroke-width="0.2">10<tspan dx="0.3" dy="-7.8" font-size="7.4">2</tspan></text>
<line x1="392.19" y1="520.4" x2="392.19" y2="522" stroke="#464646" stroke-width="0.7"/>
<line x1="398.98" y1="520.4" x2="398.98" y2="522" stroke="#464646" stroke-width="0.7"/>
<line x1="388.8" y1="308.25" x2="391.5" y2="308.25" stroke="#464646" stroke-width="0.8"/>
<text transform="translate(387.9,313.55) scale(1.06,1)" font-size="10.2" text-anchor="end" fill="#1c1c1c" stroke="#1c1c1c" stroke-width="0.2">10<tspan dx="0.3" dy="-7.8" font-size="7.4">0</tspan></text>
<line x1="389.9" y1="347.9" x2="391.5" y2="347.9" stroke="#464646" stroke-width="0.7"/>
<line x1="389.9" y1="337.91" x2="391.5" y2="337.91" stroke="#464646" stroke-width="0.7"/>
<line x1="389.9" y1="330.82" x2="391.5" y2="330.82" stroke="#464646" stroke-width="0.7"/>
<line x1="389.9" y1="325.32" x2="391.5" y2="325.32" stroke="#464646" stroke-width="0.7"/>
<line x1="389.9" y1="320.83" x2="391.5" y2="320.83" stroke="#464646" stroke-width="0.7"/>
<line x1="389.9" y1="317.04" x2="391.5" y2="317.04" stroke="#464646" stroke-width="0.7"/>
<line x1="389.9" y1="313.75" x2="391.5" y2="313.75" stroke="#464646" stroke-width="0.7"/>
<line x1="389.9" y1="310.85" x2="391.5" y2="310.85" stroke="#464646" stroke-width="0.7"/>
<line x1="388.8" y1="364.97" x2="391.5" y2="364.97" stroke="#464646" stroke-width="0.8"/>
<text transform="translate(387.9,370.27) scale(1.06,1)" font-size="10.2" text-anchor="end" fill="#1c1c1c" stroke="#1c1c1c" stroke-width="0.2">10<tspan dx="0.3" dy="-7.8" font-size="7.4">−1</tspan></text>
<line x1="389.9" y1="404.62" x2="391.5" y2="404.62" stroke="#464646" stroke-width="0.7"/>
<line x1="389.9" y1="394.63" x2="391.5" y2="394.63" stroke="#464646" stroke-width="0.7"/>
<line x1="389.9" y1="387.54" x2="391.5" y2="387.54" stroke="#464646" stroke-width="0.7"/>
<line x1="389.9" y1="382.04" x2="391.5" y2="382.04" stroke="#464646" stroke-width="0.7"/>
<line x1="389.9" y1="377.55" x2="391.5" y2="377.55" stroke="#464646" stroke-width="0.7"/>
<line x1="389.9" y1="373.76" x2="391.5" y2="373.76" stroke="#464646" stroke-width="0.7"/>
<line x1="389.9" y1="370.47" x2="391.5" y2="370.47" stroke="#464646" stroke-width="0.7"/>
<line x1="389.9" y1="367.57" x2="391.5" y2="367.57" stroke="#464646" stroke-width="0.7"/>
<line x1="388.8" y1="421.69" x2="391.5" y2="421.69" stroke="#464646" stroke-width="0.8"/>
<text transform="translate(387.9,426.99) scale(1.06,1)" font-size="10.2" text-anchor="end" fill="#1c1c1c" stroke="#1c1c1c" stroke-width="0.2">10<tspan dx="0.3" dy="-7.8" font-size="7.4">−2</tspan></text>
<line x1="389.9" y1="461.34" x2="391.5" y2="461.34" stroke="#464646" stroke-width="0.7"/>
<line x1="389.9" y1="451.35" x2="391.5" y2="451.35" stroke="#464646" stroke-width="0.7"/>
<line x1="389.9" y1="444.26" x2="391.5" y2="444.26" stroke="#464646" stroke-width="0.7"/>
<line x1="389.9" y1="438.76" x2="391.5" y2="438.76" stroke="#464646" stroke-width="0.7"/>
<line x1="389.9" y1="434.27" x2="391.5" y2="434.27" stroke="#464646" stroke-width="0.7"/>
<line x1="389.9" y1="430.48" x2="391.5" y2="430.48" stroke="#464646" stroke-width="0.7"/>
<line x1="389.9" y1="427.19" x2="391.5" y2="427.19" stroke="#464646" stroke-width="0.7"/>
<line x1="389.9" y1="424.29" x2="391.5" y2="424.29" stroke="#464646" stroke-width="0.7"/>
<line x1="388.8" y1="478.41" x2="391.5" y2="478.41" stroke="#464646" stroke-width="0.8"/>
<text transform="translate(387.9,483.71) scale(1.06,1)" font-size="10.2" text-anchor="end" fill="#1c1c1c" stroke="#1c1c1c" stroke-width="0.2">10<tspan dx="0.3" dy="-7.8" font-size="7.4">−3</tspan></text>
<line x1="389.9" y1="518.06" x2="391.5" y2="518.06" stroke="#464646" stroke-width="0.7"/>
<line x1="389.9" y1="508.07" x2="391.5" y2="508.07" stroke="#464646" stroke-width="0.7"/>
<line x1="389.9" y1="500.98" x2="391.5" y2="500.98" stroke="#464646" stroke-width="0.7"/>
<line x1="389.9" y1="495.48" x2="391.5" y2="495.48" stroke="#464646" stroke-width="0.7"/>
<line x1="389.9" y1="490.99" x2="391.5" y2="490.99" stroke="#464646" stroke-width="0.7"/>
<line x1="389.9" y1="487.2" x2="391.5" y2="487.2" stroke="#464646" stroke-width="0.7"/>
<line x1="389.9" y1="483.91" x2="391.5" y2="483.91" stroke="#464646" stroke-width="0.7"/>
<line x1="389.9" y1="481.01" x2="391.5" y2="481.01" stroke="#464646" stroke-width="0.7"/>
<text transform="translate(537.3,303.9) scale(1.0,1)" font-size="17.5" text-anchor="middle" font-weight="normal" fill="#1c1c1c" stroke="#1c1c1c" stroke-width="0.3">RNA node degree distribution</text>
<text transform="translate(537.6,553.9) scale(1.0,1)" font-size="17.5" text-anchor="middle" font-weight="normal" fill="#1c1c1c" stroke="#1c1c1c" stroke-width="0.3">Degree</text>
<text transform="translate(359.2,414.15) rotate(-90) scale(1.0,1)" font-size="17.5" text-anchor="middle" fill="#1c1c1c" stroke="#1c1c1c" stroke-width="0.3">Degree probability</text>
<clipPath id="cf"><rect x="391.5" y="590.5" width="292.2" height="211.9"/></clipPath>
<line x1="405.05" y1="590.5" x2="405.05" y2="802.4" stroke="#d4d4d4" stroke-width="1.0"/>
<line x1="537.7" y1="590.5" x2="537.7" y2="802.4" stroke="#d4d4d4" stroke-width="1.0"/>
<line x1="670.35" y1="590.5" x2="670.35" y2="802.4" stroke="#d4d4d4" stroke-width="1.0"/>
<line x1="391.5" y1="643.47" x2="683.7" y2="643.47" stroke="#c6c6c6" stroke-width="0.8"/>
<line x1="391.5" y1="696.44" x2="683.7" y2="696.44" stroke="#c6c6c6" stroke-width="0.8"/>
<line x1="391.5" y1="749.41" x2="683.7" y2="749.41" stroke="#c6c6c6" stroke-width="0.8"/>
<line x1="411.7" y1="565.01" x2="616.5" y2="827.09" stroke="#454545" stroke-width="1.05" stroke-dasharray="4.0 1.6" clip-path="url(#cf)"/>
<g fill="#41c391" fill-opacity="0.5">
<circle cx="405.05" cy="603.39" r="2.2"/>
<circle cx="444.98" cy="628.04" r="2.2"/>
<circle cx="468.34" cy="648.31" r="2.2"/>
<circle cx="484.91" cy="662.49" r="2.2"/>
<circle cx="497.77" cy="670.32" r="2.2"/>
<circle cx="508.27" cy="680.54" r="2.2"/>
<circle cx="517.15" cy="698.61" r="2.2"/>
<circle cx="524.84" cy="696.48" r="2.2"/>
<circle cx="531.63" cy="711.11" r="2.2"/>
<circle cx="537.7" cy="700.14" r="2.2"/>
<circle cx="543.19" cy="709.87" r="2.2"/>
<circle cx="548.2" cy="707.57" r="2.2"/>
<circle cx="552.81" cy="716.89" r="2.2"/>
<circle cx="557.08" cy="736.38" r="2.2"/>
<circle cx="561.06" cy="732.84" r="2.2"/>
<circle cx="564.78" cy="745.71" r="2.2"/>
<circle cx="568.27" cy="777.6" r="2.2"/>
<circle cx="571.56" cy="740.58" r="2.2"/>
<circle cx="574.68" cy="761.66" r="2.2"/>
<circle cx="577.63" cy="761.66" r="2.2"/>
<circle cx="580.44" cy="777.6" r="2.2"/>
<circle cx="588.14" cy="777.6" r="2.2"/>
<circle cx="590.49" cy="777.6" r="2.2"/>
</g>
<rect x="391.5" y="590.5" width="292.2" height="211.9" fill="none" stroke="#464646" stroke-width="0.8"/>
<line x1="405.05" y1="802.4" x2="405.05" y2="805.1" stroke="#464646" stroke-width="0.8"/>
<text transform="translate(405.45,819.1) scale(1.06,1)" font-size="10.2" text-anchor="middle" fill="#1c1c1c" stroke="#1c1c1c" stroke-width="0.2">10<tspan dx="0.3" dy="-7.8" font-size="7.4">0</tspan></text>
<line x1="444.98" y1="802.4" x2="444.98" y2="804" stroke="#464646" stroke-width="0.7"/>
<line x1="468.34" y1="802.4" x2="468.34" y2="804" stroke="#464646" stroke-width="0.7"/>
<line x1="484.91" y1="802.4" x2="484.91" y2="804" stroke="#464646" stroke-width="0.7"/>
<line x1="497.77" y1="802.4" x2="497.77" y2="804" stroke="#464646" stroke-width="0.7"/>
<line x1="508.27" y1="802.4" x2="508.27" y2="804" stroke="#464646" stroke-width="0.7"/>
<line x1="517.15" y1="802.4" x2="517.15" y2="804" stroke="#464646" stroke-width="0.7"/>
<line x1="524.84" y1="802.4" x2="524.84" y2="804" stroke="#464646" stroke-width="0.7"/>
<line x1="531.63" y1="802.4" x2="531.63" y2="804" stroke="#464646" stroke-width="0.7"/>
<line x1="537.7" y1="802.4" x2="537.7" y2="805.1" stroke="#464646" stroke-width="0.8"/>
<text transform="translate(538.1,819.1) scale(1.06,1)" font-size="10.2" text-anchor="middle" fill="#1c1c1c" stroke="#1c1c1c" stroke-width="0.2">10<tspan dx="0.3" dy="-7.8" font-size="7.4">1</tspan></text>
<line x1="577.63" y1="802.4" x2="577.63" y2="804" stroke="#464646" stroke-width="0.7"/>
<line x1="600.99" y1="802.4" x2="600.99" y2="804" stroke="#464646" stroke-width="0.7"/>
<line x1="617.56" y1="802.4" x2="617.56" y2="804" stroke="#464646" stroke-width="0.7"/>
<line x1="630.42" y1="802.4" x2="630.42" y2="804" stroke="#464646" stroke-width="0.7"/>
<line x1="640.92" y1="802.4" x2="640.92" y2="804" stroke="#464646" stroke-width="0.7"/>
<line x1="649.8" y1="802.4" x2="649.8" y2="804" stroke="#464646" stroke-width="0.7"/>
<line x1="657.49" y1="802.4" x2="657.49" y2="804" stroke="#464646" stroke-width="0.7"/>
<line x1="664.28" y1="802.4" x2="664.28" y2="804" stroke="#464646" stroke-width="0.7"/>
<line x1="670.35" y1="802.4" x2="670.35" y2="805.1" stroke="#464646" stroke-width="0.8"/>
<text transform="translate(670.75,819.1) scale(1.06,1)" font-size="10.2" text-anchor="middle" fill="#1c1c1c" stroke="#1c1c1c" stroke-width="0.2">10<tspan dx="0.3" dy="-7.8" font-size="7.4">2</tspan></text>
<line x1="392.19" y1="802.4" x2="392.19" y2="804" stroke="#464646" stroke-width="0.7"/>
<line x1="398.98" y1="802.4" x2="398.98" y2="804" stroke="#464646" stroke-width="0.7"/>
<line x1="388.8" y1="590.5" x2="391.5" y2="590.5" stroke="#464646" stroke-width="0.8"/>
<text transform="translate(387.9,595.8) scale(1.06,1)" font-size="10.2" text-anchor="end" fill="#1c1c1c" stroke="#1c1c1c" stroke-width="0.2">10<tspan dx="0.3" dy="-7.8" font-size="7.4">0</tspan></text>
<line x1="389.9" y1="627.52" x2="391.5" y2="627.52" stroke="#464646" stroke-width="0.7"/>
<line x1="389.9" y1="618.2" x2="391.5" y2="618.2" stroke="#464646" stroke-width="0.7"/>
<line x1="389.9" y1="611.58" x2="391.5" y2="611.58" stroke="#464646" stroke-width="0.7"/>
<line x1="389.9" y1="606.45" x2="391.5" y2="606.45" stroke="#464646" stroke-width="0.7"/>
<line x1="389.9" y1="602.25" x2="391.5" y2="602.25" stroke="#464646" stroke-width="0.7"/>
<line x1="389.9" y1="598.71" x2="391.5" y2="598.71" stroke="#464646" stroke-width="0.7"/>
<line x1="389.9" y1="595.63" x2="391.5" y2="595.63" stroke="#464646" stroke-width="0.7"/>
<line x1="389.9" y1="592.92" x2="391.5" y2="592.92" stroke="#464646" stroke-width="0.7"/>
<line x1="388.8" y1="643.47" x2="391.5" y2="643.47" stroke="#464646" stroke-width="0.8"/>
<text transform="translate(387.9,648.77) scale(1.06,1)" font-size="10.2" text-anchor="end" fill="#1c1c1c" stroke="#1c1c1c" stroke-width="0.2">10<tspan dx="0.3" dy="-7.8" font-size="7.4">−1</tspan></text>
<line x1="389.9" y1="680.49" x2="391.5" y2="680.49" stroke="#464646" stroke-width="0.7"/>
<line x1="389.9" y1="671.17" x2="391.5" y2="671.17" stroke="#464646" stroke-width="0.7"/>
<line x1="389.9" y1="664.55" x2="391.5" y2="664.55" stroke="#464646" stroke-width="0.7"/>
<line x1="389.9" y1="659.42" x2="391.5" y2="659.42" stroke="#464646" stroke-width="0.7"/>
<line x1="389.9" y1="655.22" x2="391.5" y2="655.22" stroke="#464646" stroke-width="0.7"/>
<line x1="389.9" y1="651.68" x2="391.5" y2="651.68" stroke="#464646" stroke-width="0.7"/>
<line x1="389.9" y1="648.6" x2="391.5" y2="648.6" stroke="#464646" stroke-width="0.7"/>
<line x1="389.9" y1="645.89" x2="391.5" y2="645.89" stroke="#464646" stroke-width="0.7"/>
<line x1="388.8" y1="696.44" x2="391.5" y2="696.44" stroke="#464646" stroke-width="0.8"/>
<text transform="translate(387.9,701.74) scale(1.06,1)" font-size="10.2" text-anchor="end" fill="#1c1c1c" stroke="#1c1c1c" stroke-width="0.2">10<tspan dx="0.3" dy="-7.8" font-size="7.4">−2</tspan></text>
<line x1="389.9" y1="733.46" x2="391.5" y2="733.46" stroke="#464646" stroke-width="0.7"/>
<line x1="389.9" y1="724.14" x2="391.5" y2="724.14" stroke="#464646" stroke-width="0.7"/>
<line x1="389.9" y1="717.52" x2="391.5" y2="717.52" stroke="#464646" stroke-width="0.7"/>
<line x1="389.9" y1="712.39" x2="391.5" y2="712.39" stroke="#464646" stroke-width="0.7"/>
<line x1="389.9" y1="708.19" x2="391.5" y2="708.19" stroke="#464646" stroke-width="0.7"/>
<line x1="389.9" y1="704.65" x2="391.5" y2="704.65" stroke="#464646" stroke-width="0.7"/>
<line x1="389.9" y1="701.57" x2="391.5" y2="701.57" stroke="#464646" stroke-width="0.7"/>
<line x1="389.9" y1="698.86" x2="391.5" y2="698.86" stroke="#464646" stroke-width="0.7"/>
<line x1="388.8" y1="749.41" x2="391.5" y2="749.41" stroke="#464646" stroke-width="0.8"/>
<text transform="translate(387.9,754.71) scale(1.06,1)" font-size="10.2" text-anchor="end" fill="#1c1c1c" stroke="#1c1c1c" stroke-width="0.2">10<tspan dx="0.3" dy="-7.8" font-size="7.4">−3</tspan></text>
<line x1="389.9" y1="786.43" x2="391.5" y2="786.43" stroke="#464646" stroke-width="0.7"/>
<line x1="389.9" y1="777.11" x2="391.5" y2="777.11" stroke="#464646" stroke-width="0.7"/>
<line x1="389.9" y1="770.49" x2="391.5" y2="770.49" stroke="#464646" stroke-width="0.7"/>
<line x1="389.9" y1="765.36" x2="391.5" y2="765.36" stroke="#464646" stroke-width="0.7"/>
<line x1="389.9" y1="761.16" x2="391.5" y2="761.16" stroke="#464646" stroke-width="0.7"/>
<line x1="389.9" y1="757.62" x2="391.5" y2="757.62" stroke="#464646" stroke-width="0.7"/>
<line x1="389.9" y1="754.54" x2="391.5" y2="754.54" stroke="#464646" stroke-width="0.7"/>
<line x1="389.9" y1="751.83" x2="391.5" y2="751.83" stroke="#464646" stroke-width="0.7"/>
<line x1="388.8" y1="802.38" x2="391.5" y2="802.38" stroke="#464646" stroke-width="0.8"/>
<text transform="translate(387.9,807.68) scale(1.06,1)" font-size="10.2" text-anchor="end" fill="#1c1c1c" stroke="#1c1c1c" stroke-width="0.2">10<tspan dx="0.3" dy="-7.8" font-size="7.4">−4</tspan></text>
<text transform="translate(537.3,586.1) scale(1.0,1)" font-size="17.5" text-anchor="middle" font-weight="normal" fill="#1c1c1c" stroke="#1c1c1c" stroke-width="0.3">Protein node degree distribution</text>
<text transform="translate(537.6,835.9) scale(1.0,1)" font-size="17.5" text-anchor="middle" font-weight="normal" fill="#1c1c1c" stroke="#1c1c1c" stroke-width="0.3">Degree</text>
<text transform="translate(359.2,696.15) rotate(-90) scale(1.0,1)" font-size="17.5" text-anchor="middle" fill="#1c1c1c" stroke="#1c1c1c" stroke-width="0.3">Degree probability</text>
<text transform="translate(2.6,19.5) scale(1.0,1)" font-size="25.2" text-anchor="start" font-weight="bold" fill="#231815" stroke="#231815" stroke-width="0.55">a</text>
<text transform="translate(343.4,19.2) scale(1.0,1)" font-size="25.2" text-anchor="start" font-weight="bold" fill="#231815" stroke="#231815" stroke-width="0.55">b</text>
<text transform="translate(2.4,296.1) scale(1.0,1)" font-size="25.2" text-anchor="start" font-weight="bold" fill="#231815" stroke="#231815" stroke-width="0.55">c</text>
<text transform="translate(348,292) scale(1.0,1)" font-size="25.2" text-anchor="start" font-weight="bold" fill="#231815" stroke="#231815" stroke-width="0.55">d</text>
<text transform="translate(3.2,573.1) scale(1.0,1)" font-size="25.2" text-anchor="start" font-weight="bold" fill="#231815" stroke="#231815" stroke-width="0.55">e</text>
<text transform="translate(349,569) scale(1.0,1)" font-size="25.2" text-anchor="start" font-weight="bold" fill="#231815" stroke="#231815" stroke-width="0.55">f</text>
</svg>
</body></html>
